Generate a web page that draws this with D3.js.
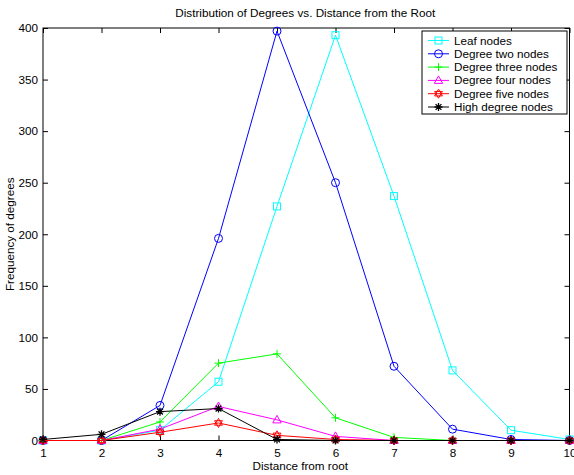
<!DOCTYPE html>
<html><head><meta charset="utf-8">
<script src="https://cdn.jsdelivr.net/npm/d3@7"></script>
<style>body{margin:0;background:#fff}svg{display:block}text{font-family:"Liberation Sans",Arial,Helvetica,sans-serif;fill:#000}</style>
</head><body><svg id="c" width="574" height="475"></svg>
<script>
const distances = [1,2,3,4,5,6,7,8,9,10];
const leafNodes   = [0,0,10,57,227,393,237,68,10,1];
const degreeTwo   = [0,0,34,196,397,250,72,11,1,0];
const degreeThree = [0,0,18,75,84,22,3,0,0,0];
const degreeFour  = [0,0,11,33,20,4,0,0,0,0];
const degreeFive  = [0,0,8,17,5,1,0,0,0,0];
const highDegree  = [1,6,28,31,1,0,0,0,0,0];
const yTicks = [0,50,100,150,200,250,300,350,400];
const seriesNames = ["Leaf nodes","Degree two nodes","Degree three nodes","Degree four nodes","Degree five nodes","High degree nodes"];

const series = [
  {name:seriesNames[0], values:leafNodes,   color:"#00ffff", marker:"square"},
  {name:seriesNames[1], values:degreeTwo,   color:"#0000ff", marker:"circle"},
  {name:seriesNames[2], values:degreeThree, color:"#00ff00", marker:"plus"},
  {name:seriesNames[3], values:degreeFour,  color:"#ff00ff", marker:"triangle"},
  {name:seriesNames[4], values:degreeFive,  color:"#ff0000", marker:"hexagram"},
  {name:seriesNames[5], values:highDegree,  color:"#000000", marker:"asterisk"}
];

const FS = "11.7px";
const svg = d3.select("#c");
const L=43, R=569.5, T=28, B=440.5;
const x = d3.scaleLinear().domain([1,10]).range([L,R]);
const y = d3.scaleLinear().domain([0,400]).range([B,T]);

function drawMarker(g, type, cx, cy, color){
  const s = g.append("g").attr("transform",`translate(${cx},${cy})`)
    .attr("fill","none").attr("stroke",color).attr("stroke-width",1);
  if(type==="square") s.append("rect").attr("x",-3.5).attr("y",-3.5).attr("width",7).attr("height",7);
  else if(type==="circle") s.append("circle").attr("r",4);
  else if(type==="plus") s.append("path").attr("d","M-4,0H4M0,-4V4");
  else if(type==="triangle") s.append("path").attr("d","M0,-4.5L4.2,3L-4.2,3Z");
  else if(type==="hexagram") s.append("path").attr("d","M0,-4.5L3.9,2.25L-3.9,2.25ZM0,4.5L3.9,-2.25L-3.9,-2.25Z");
  else if(type==="asterisk") s.append("path").attr("d","M-4,0H4M0,-4V4M-2.9,-2.9L2.9,2.9M-2.9,2.9L2.9,-2.9").attr("stroke-width",1.3);
}

svg.append("rect").attr("x",L).attr("y",T).attr("width",R-L).attr("height",B-T)
  .attr("fill","none").attr("stroke","#000").attr("stroke-width",1);

const xAxisB = d3.axisBottom(x).tickValues(distances).tickSize(-5).tickPadding(8).tickFormat(d3.format("d"));
const gx = svg.append("g").attr("transform",`translate(0,${B})`).call(xAxisB);
const xAxisT = d3.axisTop(x).tickValues(distances).tickSize(-5).tickFormat("");
const gxt = svg.append("g").attr("transform",`translate(0,${T})`).call(xAxisT);
const yAxisL = d3.axisLeft(y).tickValues(yTicks).tickSize(-5).tickPadding(5);
const gy = svg.append("g").attr("transform",`translate(${L},0)`).call(yAxisL);
const yAxisR = d3.axisRight(y).tickValues(yTicks).tickSize(-5).tickFormat("");
const gyr = svg.append("g").attr("transform",`translate(${R},0)`).call(yAxisR);
[gx,gxt,gy,gyr].forEach(g=>{
  g.select(".domain").remove();
  g.selectAll("text").style("font-size",FS).style("font-family","'Liberation Sans',Arial,sans-serif");
  g.selectAll("line").attr("stroke","#000");
});

const line = d3.line().x((d,i)=>x(distances[i])).y(d=>y(d));
series.forEach(s=>{
  svg.append("path").datum(s.values).attr("d",line).attr("fill","none")
    .attr("stroke",s.color).attr("stroke-width",1);
  const mg = svg.append("g");
  s.values.forEach((v,i)=>drawMarker(mg,s.marker,x(distances[i]),y(v),s.color));
});

svg.append("text").attr("x",(L+R)/2-1).attr("y",17).attr("text-anchor","middle")
  .style("font-size",FS).text("Distribution of Degrees vs. Distance from the Root");
svg.append("text").attr("x",(L+R)/2-6).attr("y",470).attr("text-anchor","middle")
  .style("font-size",FS).text("Distance from root");
svg.append("text").attr("transform",`translate(14,${(T+B)/2}) rotate(-90)`).attr("text-anchor","middle")
  .style("font-size",FS).text("Frequency of degrees");

const lg = svg.append("g");
const lx=422, ly=31, lw=145, lh=83;
lg.append("rect").attr("x",lx).attr("y",ly).attr("width",lw).attr("height",lh)
  .attr("fill","#fff").attr("stroke","#000").attr("stroke-width",1);
series.forEach((s,i)=>{
  const yy = ly+9.5+i*13.3;
  lg.append("line").attr("x1",lx+6).attr("x2",lx+27).attr("y1",yy).attr("y2",yy)
    .attr("stroke",s.color).attr("stroke-width",1);
  drawMarker(lg,s.marker,lx+16.5,yy,s.color);
  lg.append("text").attr("x",lx+32).attr("y",yy+4).style("font-size",FS).text(s.name);
});
</script></body></html>
